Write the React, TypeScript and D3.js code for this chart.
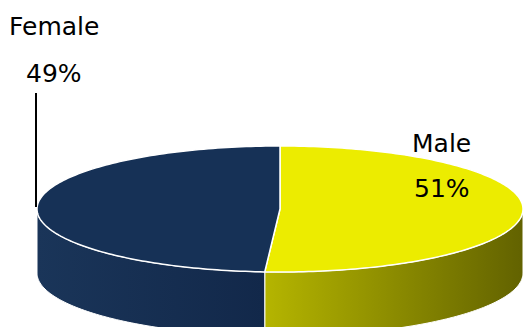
import React from "react";
import * as d3 from "d3";

const categories = ["Male", "Female"];
const values = [51, 49];
const labels = ["51%", "49%"];

const W = 526;
const H = 327;
const cx = 280;
const cy = 209;
const rx = 243;
const ry = 63;
const depth = 64;

const topColors = ["#ecec00", "#163156"];
const sideLeft = ["#b5b500", "#1a3559"];
const sideRight = ["#626200", "#12284a"];

function pt(a: number, dy = 0): [number, number] {
  return [cx + rx * Math.sin(a), cy - ry * Math.cos(a) + dy];
}

function arcPoints(a0: number, a1: number, dy = 0): [number, number][] {
  const n = Math.max(2, Math.ceil(Math.abs(a1 - a0) / 0.02));
  return d3.range(n + 1).map((i) => pt(a0 + ((a1 - a0) * i) / n, dy));
}

export default function App() {
  const pie = d3.pie<number>().sort(null).value((d) => d);
  const arcs = pie(values);
  const line = d3.line();

  const sides = arcs.map((a, i) => {
    const s = Math.max(a.startAngle, Math.PI / 2);
    const e = Math.min(a.endAngle, (3 * Math.PI) / 2);
    if (e <= s) return null;
    const top = arcPoints(s, e);
    const bot = arcPoints(e, s, depth);
    const x0 = pt(s)[0];
    const x1 = pt(e)[0];
    return { d: line([...top, ...bot])! + "Z", x0: Math.min(x0, x1), x1: Math.max(x0, x1), i };
  });

  const tops = arcs.map((a) => {
    const pts = [[cx, cy] as [number, number], ...arcPoints(a.startAngle, a.endAngle)];
    return line(pts)! + "Z";
  });

  return (
    <svg width={W} height={H} style={{ position: "absolute", left: 0, top: 0 }}>
      <defs>
        {sides.map((s, i) =>
          s ? (
            <linearGradient
              key={i}
              id={`sg${i}`}
              gradientUnits="userSpaceOnUse"
              x1={s.x0}
              x2={s.x1}
              y1={0}
              y2={0}
            >
              <stop offset="0" stopColor={sideLeft[i]} />
              <stop offset="1" stopColor={sideRight[i]} />
            </linearGradient>
          ) : null
        )}
      </defs>
      {sides.map((s, i) =>
        s ? <path key={i} d={s.d} fill={`url(#sg${i})`} stroke="#ffffff" strokeWidth={1} /> : null
      )}
      {tops.map((d, i) => (
        <path key={i} d={d} fill={topColors[i]} stroke="#ffffff" strokeWidth={1.5} strokeLinejoin="round" />
      ))}
      <line x1={36} y1={93} x2={36} y2={207} stroke="#000" strokeWidth={2} />
      <g fontFamily="'DejaVu Sans', sans-serif" fontSize={25} fill="#000">
        <text x={9} y={35}>{categories[1]}</text>
        <text x={26} y={82}>{labels[1]}</text>
        <text x={412} y={152}>{categories[0]}</text>
        <text x={414} y={197}>{labels[0]}</text>
      </g>
    </svg>
  );
}
